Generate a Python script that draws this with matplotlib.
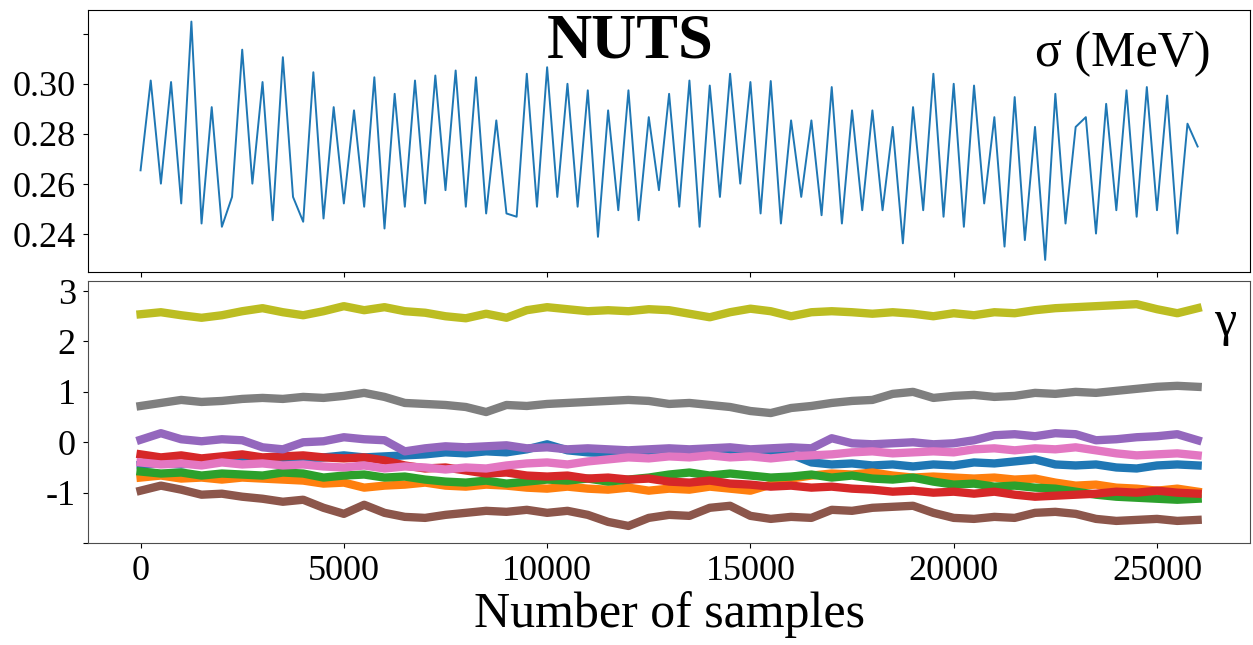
import numpy as np
import matplotlib.pyplot as plt

plt.rcParams['font.family'] = ['Liberation Serif', 'DejaVu Serif']

# sigma trace, read every 250 samples (alternating highs / lows)
sigma_step = 250
sigma = [0.2655, 0.3013, 0.2602, 0.3007, 0.2523, 0.3248, 0.2443, 0.2907,
         0.2430, 0.2549, 0.3136, 0.2602, 0.3007, 0.2456, 0.3106, 0.2549,
         0.2450, 0.3046, 0.2463, 0.2907, 0.2523, 0.2894, 0.2510, 0.3026,
         0.2423, 0.2960, 0.2510, 0.3013, 0.2523, 0.3033, 0.2576, 0.3053,
         0.2510, 0.3026, 0.2483, 0.2854, 0.2483, 0.2470, 0.3040, 0.2510,
         0.3066, 0.2549, 0.3000, 0.2510, 0.2974, 0.2390, 0.2894, 0.2496,
         0.2974, 0.2456, 0.2867, 0.2576, 0.2960, 0.2510, 0.3013, 0.2430,
         0.2993, 0.2549, 0.3040, 0.2602, 0.3007, 0.2483, 0.3011, 0.2443,
         0.2854, 0.2549, 0.2854, 0.2476, 0.2987, 0.2443, 0.2894, 0.2496,
         0.2894, 0.2496, 0.2828, 0.2364, 0.2907, 0.2496, 0.3040, 0.2470,
         0.3000, 0.2430, 0.2993, 0.2523, 0.2867, 0.2351, 0.2947, 0.2377,
         0.2828, 0.2298, 0.2960, 0.2443, 0.2828, 0.2867, 0.2403, 0.2920,
         0.2496, 0.2974, 0.2470, 0.2987, 0.2496, 0.2953, 0.2403, 0.2841,
         0.2750]

# gamma traces, read every 500 samples
gamma_step = 500
g_blue = [-0.45, -0.42, -0.44, -0.40, -0.38, -0.36, -0.34, -0.36, -0.32, -0.30,
          -0.26, -0.30, -0.28, -0.26, -0.24, -0.20, -0.22, -0.18, -0.20, -0.14,
          -0.04, -0.16, -0.20, -0.22, -0.24, -0.22, -0.18, -0.20, -0.18, -0.16,
          -0.20, -0.22, -0.24, -0.40, -0.44, -0.42, -0.46, -0.44, -0.48, -0.44,
          -0.46, -0.40, -0.42, -0.38, -0.34, -0.44, -0.46, -0.44, -0.50, -0.52,
          -0.46, -0.44, -0.46]
g_orange = [-0.70, -0.66, -0.72, -0.70, -0.74, -0.70, -0.72, -0.74, -0.76, -0.82,
            -0.80, -0.90, -0.86, -0.84, -0.80, -0.86, -0.88, -0.84, -0.86, -0.90,
            -0.92, -0.88, -0.92, -0.94, -0.90, -0.96, -0.92, -0.94, -0.88, -0.92,
            -0.96, -0.84, -0.72, -0.66, -0.62, -0.64, -0.60, -0.66, -0.70, -0.68,
            -0.70, -0.72, -0.70, -0.74, -0.72, -0.80, -0.86, -0.84, -0.90, -0.92,
            -0.96, -0.92, -0.98]
g_green = [-0.58, -0.62, -0.60, -0.66, -0.62, -0.64, -0.66, -0.60, -0.62, -0.70,
           -0.66, -0.64, -0.70, -0.68, -0.74, -0.78, -0.80, -0.76, -0.82, -0.78,
           -0.74, -0.76, -0.72, -0.78, -0.74, -0.70, -0.64, -0.60, -0.66, -0.62,
           -0.66, -0.70, -0.68, -0.64, -0.70, -0.66, -0.72, -0.74, -0.70, -0.78,
           -0.84, -0.82, -0.88, -0.86, -0.90, -0.92, -0.98, -1.04, -1.08, -1.10,
           -1.12, -1.14, -1.12]
g_red = [-0.24, -0.30, -0.26, -0.32, -0.28, -0.24, -0.30, -0.28, -0.26, -0.30,
         -0.32, -0.30, -0.36, -0.46, -0.52, -0.50, -0.56, -0.62, -0.60, -0.66,
         -0.68, -0.66, -0.72, -0.70, -0.74, -0.72, -0.78, -0.80, -0.76, -0.82,
         -0.84, -0.88, -0.86, -0.90, -0.88, -0.92, -0.94, -0.98, -0.96, -1.00,
         -0.98, -1.02, -0.98, -1.04, -1.08, -1.06, -1.04, -1.02, -0.98, -1.00,
         -0.96, -1.00, -1.02]
g_purple = [0.05, 0.18, 0.06, 0.02, 0.06, 0.04, -0.10, -0.14, 0.00, 0.02,
            0.10, 0.06, 0.04, -0.18, -0.12, -0.08, -0.10, -0.08, -0.06, -0.12,
            -0.10, -0.14, -0.12, -0.14, -0.16, -0.14, -0.12, -0.14, -0.12, -0.10,
            -0.14, -0.12, -0.10, -0.12, 0.08, -0.02, -0.04, -0.02, 0.00, -0.04,
            -0.02, 0.04, 0.14, 0.16, 0.12, 0.18, 0.16, 0.04, 0.06, 0.10,
            0.12, 0.16, 0.04]
g_brown = [-0.96, -0.86, -0.94, -1.04, -1.02, -1.08, -1.12, -1.18, -1.14, -1.30,
           -1.42, -1.24, -1.40, -1.48, -1.50, -1.44, -1.40, -1.36, -1.38, -1.34,
           -1.40, -1.36, -1.44, -1.58, -1.66, -1.50, -1.44, -1.46, -1.30, -1.26,
           -1.46, -1.52, -1.48, -1.50, -1.34, -1.36, -1.30, -1.28, -1.26, -1.40,
           -1.50, -1.52, -1.48, -1.50, -1.40, -1.38, -1.42, -1.52, -1.56, -1.54,
           -1.52, -1.56, -1.54]
g_pink = [-0.40, -0.44, -0.42, -0.46, -0.40, -0.44, -0.42, -0.46, -0.44, -0.48,
          -0.50, -0.46, -0.52, -0.48, -0.50, -0.54, -0.50, -0.52, -0.46, -0.42,
          -0.40, -0.44, -0.38, -0.34, -0.30, -0.32, -0.28, -0.30, -0.26, -0.30,
          -0.28, -0.32, -0.28, -0.26, -0.24, -0.20, -0.18, -0.22, -0.20, -0.18,
          -0.20, -0.14, -0.12, -0.16, -0.12, -0.14, -0.10, -0.16, -0.22, -0.26,
          -0.24, -0.22, -0.26]
g_gray = [0.72, 0.78, 0.84, 0.80, 0.82, 0.86, 0.88, 0.86, 0.90, 0.88,
          0.92, 0.98, 0.90, 0.78, 0.76, 0.74, 0.70, 0.60, 0.74, 0.72,
          0.76, 0.78, 0.80, 0.82, 0.84, 0.82, 0.76, 0.78, 0.74, 0.70,
          0.62, 0.58, 0.68, 0.72, 0.78, 0.82, 0.84, 0.96, 1.00, 0.88,
          0.92, 0.94, 0.90, 0.92, 0.98, 0.96, 1.00, 0.98, 1.02, 1.06,
          1.10, 1.12, 1.10]
g_olive = [2.54, 2.58, 2.52, 2.47, 2.52, 2.60, 2.66, 2.58, 2.52, 2.60,
           2.70, 2.62, 2.68, 2.60, 2.57, 2.50, 2.46, 2.55, 2.47, 2.62,
           2.68, 2.64, 2.60, 2.62, 2.60, 2.64, 2.62, 2.55, 2.48, 2.58,
           2.65, 2.60, 2.50, 2.58, 2.60, 2.58, 2.55, 2.58, 2.55, 2.50,
           2.56, 2.52, 2.58, 2.56, 2.62, 2.66, 2.68, 2.70, 2.72, 2.74,
           2.64, 2.56, 2.66]
gammas = [g_blue, g_orange, g_green, g_red, g_purple,
          g_brown, g_pink, g_gray, g_olive]

fig, (ax1, ax2) = plt.subplots(2, 1, sharex=True, figsize=(12.53, 6.45), dpi=100)
fig.subplots_adjust(left=0.070, right=0.998, top=0.985, bottom=0.158, hspace=0.035)

x_sig = np.arange(len(sigma)) * sigma_step
ax1.plot(x_sig, sigma, color='C0', lw=1.4)
ax1.set_yticks([0.24, 0.26, 0.28, 0.30, 0.32])
ax1.set_yticklabels(['0.24', '0.26', '0.28', '0.30', ''])
ax1.text(0.4665, 0.985, 'NUTS', transform=ax1.transAxes, ha='center', va='top',
         fontsize=45, fontweight='bold')
ax1.text(0.9656, 0.83, 'σ (MeV)', transform=ax1.transAxes, ha='right',
         va='center', fontsize=36)

for i, g in enumerate(gammas):
    xg = np.arange(len(g)) * gamma_step
    ax2.plot(xg, g, color='C%d' % i, lw=6)
ax2.set_yticks([-2, -1, 0, 1, 2, 3])
ax2.set_yticklabels(['', '-1', '0', '1', '2', '3'])
ax2.set_ylim(-2.0, 3.2)
ax2.text(0.9785, 0.84, 'γ', transform=ax2.transAxes, ha='center',
         va='center', fontsize=36)
ax2.set_xlabel('Number of samples', fontsize=36, labelpad=2)
for sp in ax2.spines.values():
    sp.set_color('0.3')

for ax in (ax1, ax2):
    ax.tick_params(labelsize=26, pad=5)

plt.savefig('out.png')
